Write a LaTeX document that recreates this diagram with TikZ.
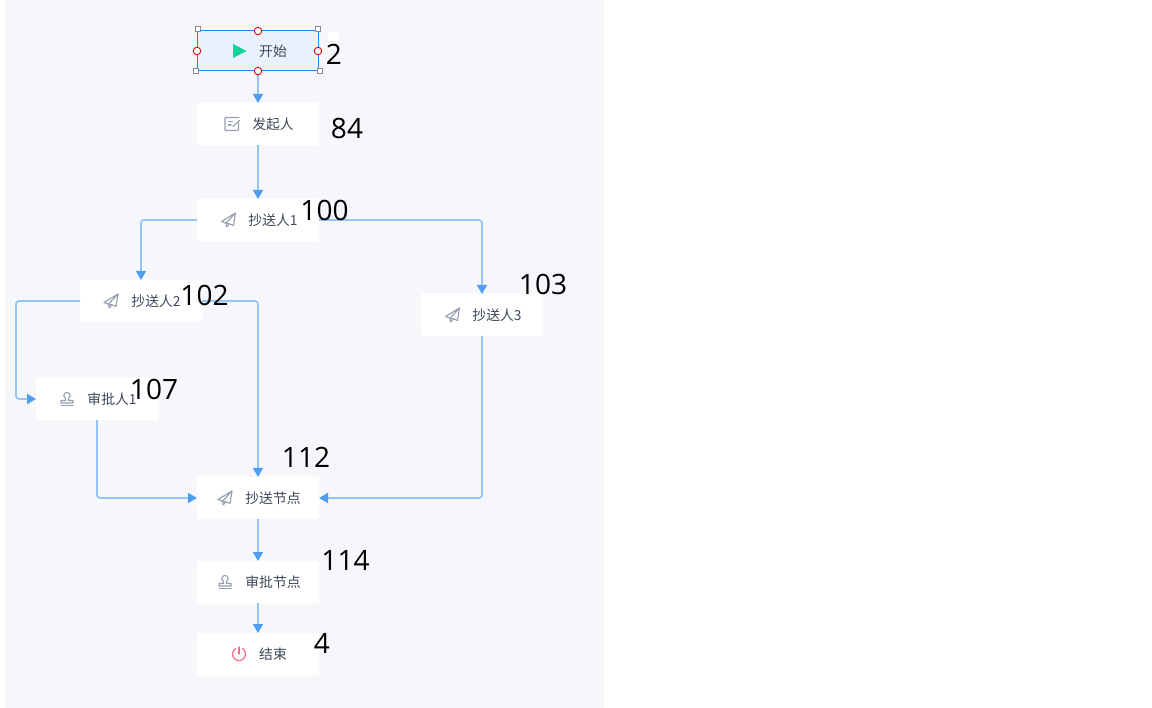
\documentclass[tikz,border=0pt]{standalone}
\usepackage{fontspec}
\usetikzlibrary{arrows.meta}
\setmainfont{Open Sans}
\newfontfamily\cjkfont{Noto Sans CJK SC}
\definecolor{canvasbg}{HTML}{F5F7FB}
\definecolor{linkblue}{HTML}{95C5F8}
\definecolor{tipblue}{HTML}{4F9EF0}
\definecolor{txtgray}{HTML}{3D4757}
\definecolor{icongray}{HTML}{969EAD}
\definecolor{selblue}{HTML}{1F87F0}
\definecolor{selfill}{HTML}{E7F2FD}
\definecolor{playgreen}{HTML}{10D29B}
\definecolor{powerpink}{HTML}{F46C8B}
\definecolor{handlegray}{HTML}{8A8A8A}
\tikzset{
  x=1pt,y=-1pt,
  flowbox/.style={draw=white,line width=.5pt,fill=white,rounded corners=1.5pt,minimum width=122pt,minimum height=42pt,inner sep=0pt,outer sep=0pt},
  startbox/.style={flowbox,draw=selblue,fill=selfill,line width=.9pt,rounded corners=0pt,minimum height=40.5pt,minimum width=121.5pt},
  boxtext/.style={font=\cjkfont\fontsize{13.8}{15}\selectfont,text=txtgray,inner sep=0pt},
  numtext/.style={font=\fontsize{28}{30}\selectfont,text=black,inner sep=0pt},
  link/.style={draw=linkblue,line width=1.7pt,rounded corners=3pt,-{Triangle[length=9pt,width=10pt,color=tipblue]}},
  cornerh/.style={draw=handlegray,fill=white,line width=.8pt,minimum size=5pt,inner sep=0pt,outer sep=0pt},
  midh/.style={circle,draw=red!90!black,fill=white,line width=.9pt,minimum size=7.5pt,inner sep=0pt,outer sep=0pt},
  icon/.style={draw=icongray,line width=1.1pt,line join=round,line cap=round},
  pics/plane/.style={code={
    \draw[icon] (7,-7) -- (-7,1.5) -- (-2.5,3.2) -- cycle;
    \draw[icon] (7,-7) -- (5,5.5) -- (0.8,3.8);
    \draw[icon] (-2.5,3.2) -- (-1.8,7) -- (0.8,3.8) -- (-2.5,3.2);
  }},
  pics/stamp/.style={code={
    \draw[icon] (-1.5,-0.5) .. controls (-4.5,-3) and (-3,-6.5) .. (0,-6.5) .. controls (3,-6.5) and (4.5,-3) .. (1.5,-0.5) -- (1.5,1.5) -- (6,1.5) -- (6,4) -- (-6,4) -- (-6,1.5) -- (-1.5,1.5) -- cycle;
    \draw[icon] (-6,6.5) -- (6,6.5);
  }},
  pics/edit/.style={code={
    \draw[icon,line width=1.3pt,rounded corners=1pt] (6.5,-1) -- (6.5,6.5) -- (-7,6.5) -- (-7,-6.5) -- (7,-6.5);
    \draw[icon] (-3.5,-2.5) -- (0.5,-2.5) (-3.5,1) -- (-1,1);
    \draw[icon] (1,2.5) -- (7.5,-3.5);
  }},
}
\begin{document}
\begin{tikzpicture}
\useasboundingbox (0,0) rectangle (1152,708);
\fill[white] (0,0) rectangle (1152,708);
\fill[canvasbg] (5,0) rectangle (604,708);

% boxes
\node[startbox] (start) at (258,50.5) {};
\node[flowbox] (faqi) at (258,124) {};
\node[flowbox] (cc1) at (258,220) {};
\node[flowbox] (cc2) at (141,301) {};
\node[flowbox] (cc3) at (482,315) {};
\node[flowbox] (sp1) at (97,399) {};
\node[flowbox] (ccj) at (258,498) {};
\node[flowbox] (spj) at (258,582) {};
\node[flowbox] (stop) at (258,654) {};
\coordinate (leftbend1) at (16,301);
\coordinate (leftbend2) at (16,399);

% connectors
\draw[link] (start.south) -- (faqi.north);
\draw[link] (faqi.south) -- (cc1.north);
\draw[link] (cc1.west) -| (cc2.north);
\draw[link] (cc1.east) -| (cc3.north);
\draw[link] (cc2.west) -- (leftbend1) -- (leftbend2) -- (sp1.west);
\draw[link] (cc2.east) -| (ccj.north);
\draw[link] (sp1.south) |- (ccj.west);
\draw[link] (cc3.south) |- (ccj.east);
\draw[link] (ccj.south) -- (spj.north);
\draw[link] (spj.south) -- (stop.north);

% selection handles
\node[cornerh] (hTL) at (198,29) {};
\node[cornerh] (hTR) at (318,29) {};
\node[cornerh] (hBL) at (196,71) {};
\node[cornerh] (hBR) at (320,71) {};
\node[midh] (hT) at (258,31) {};
\node[midh] (hB) at (258,71) {};
\node[midh] (hL) at (197,51) {};
\node[midh] (hR) at (318,51) {};

% icons
\fill[playgreen] (233,44) -- (246.5,51) -- (233,58) -- cycle;
\pic at (232,124) {edit};
\pic at (228.5,220) {plane};
\pic at (111,301) {plane};
\pic at (452.5,315) {plane};
\pic at (67,399) {stamp};
\pic at (225,498) {plane};
\pic at (225,582) {stamp};
\draw[powerpink,line width=1.2pt,line cap=round] (242.25,648.4) arc[start angle=-60,end angle=240,radius=6.5];
\draw[powerpink,line width=1.2pt,line cap=round] (239,647) -- (239,654);

% texts
\node[boxtext] (t1) at (273,51) {开始};
\node[boxtext] (t2) at (273,124) {发起人};
\node[boxtext] (t3) at (273,220) {抄送人1};
\node[boxtext] (t4) at (156,301) {抄送人2};
\node[boxtext] (t5) at (497,315) {抄送人3};
\node[boxtext] (t6) at (112,399) {审批人1};
\node[boxtext] (t7) at (273,498) {抄送节点};
\node[boxtext] (t8) at (273,582) {审批节点};
\node[boxtext] (t9) at (273,654) {结束};

% numbers
\fill[white] (328,32) -- (337,32) -- (340,41) -- (328,41) -- cycle;
\node[numtext] (n1) at (334,54) {2};
\node[numtext] (n2) at (347,129) {84};
\node[numtext] (n3) at (324.5,210) {100};
\node[numtext] (n4) at (204.5,295) {102};
\node[numtext] (n5) at (543,284) {103};
\node[numtext] (n6) at (154,389) {107};
\node[numtext] (n7) at (306,457) {112};
\node[numtext] (n8) at (345.5,560) {114};
\node[numtext] (n9) at (322,643) {4};
\end{tikzpicture}
\end{document}
